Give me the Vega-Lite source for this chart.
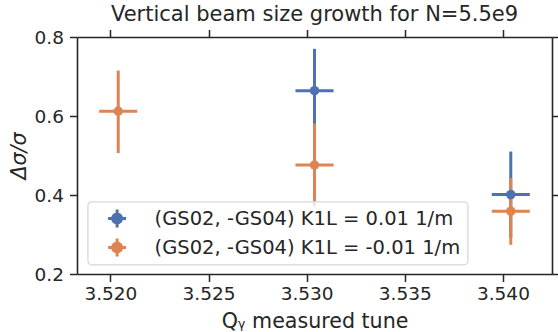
{
  "$schema": "https://vega.github.io/schema/vega-lite/v6.json",
  "width": 475,
  "height": 237,
  "autosize": "none",
  "padding": {"left": 77, "top": 37, "right": 6, "bottom": 58},
  "background": "white",
  "title": {"text": "Vertical beam size growth for N=5.5e9"},
  "data": {
    "values": [
      {"series": "(GS02, -GS04) K1L = 0.01 1/m", "x": 3.5304, "x_lo": 3.52943, "x_hi": 3.53137, "y": 0.664, "y_lo": 0.558, "y_hi": 0.770},
      {"series": "(GS02, -GS04) K1L = 0.01 1/m", "x": 3.5404, "x_lo": 3.53943, "x_hi": 3.54137, "y": 0.401, "y_lo": 0.292, "y_hi": 0.510},
      {"series": "(GS02, -GS04) K1L = -0.01 1/m", "x": 3.5204, "x_lo": 3.51943, "x_hi": 3.52137, "y": 0.612, "y_lo": 0.506, "y_hi": 0.715},
      {"series": "(GS02, -GS04) K1L = -0.01 1/m", "x": 3.5304, "x_lo": 3.52943, "x_hi": 3.53137, "y": 0.476, "y_lo": 0.371, "y_hi": 0.581},
      {"series": "(GS02, -GS04) K1L = -0.01 1/m", "x": 3.5404, "x_lo": 3.53943, "x_hi": 3.54137, "y": 0.359, "y_lo": 0.274, "y_hi": 0.443}
    ]
  },
  "layer": [
    {
      "mark": {"type": "rule", "strokeWidth": 3},
      "encoding": {
        "x": {"field": "x_lo", "type": "quantitative", "scale": {"domain": [3.5183, 3.5425], "nice": false, "zero": false},
              "axis": {"orient": "bottom", "values": [3.52, 3.525, 3.53, 3.535, 3.54], "format": ".3f", "labelPadding": 3, "title": "Qᵧ measured tune", "titleY": 53.5, "titleBaseline": "alphabetic"}},
        "x2": {"field": "x_hi"},
        "y": {"field": "y", "type": "quantitative", "scale": {"domain": [0.2, 0.8], "nice": false, "zero": false},
              "axis": {"orient": "left", "values": [0.2, 0.4, 0.6, 0.8], "format": ".1f", "labelPadding": 6, "title": "Δσ/σ", "titleX": -52, "titleBaseline": "alphabetic", "titleFontStyle": "italic"}},
        "color": {"field": "series", "type": "nominal",
                  "scale": {"domain": ["(GS02, -GS04) K1L = 0.01 1/m", "(GS02, -GS04) K1L = -0.01 1/m"], "range": ["#4c72b0", "#dd8452"]},
                  "legend": {"title": null, "orient": "none", "legendX": 10.6, "legendY": 164.5,
                             "symbolType": "M-1,0H1M0,-1V1M-0.5,0A0.5,0.5 0 1,0 0.5,0A0.5,0.5 0 1,0 -0.5,0Z",
                             "symbolSize": 324, "symbolOffset": 12, "labelOffset": 27, "clipHeight": 20,
                             "encode": {"symbols": {"update": {"stroke": {"scale": "color", "field": "value"}, "fill": {"scale": "color", "field": "value"}, "strokeWidth": {"value": 3}, "opacity": {"value": 1}}}}}}
      }
    },
    {
      "mark": {"type": "rule", "strokeWidth": 3},
      "encoding": {
        "x": {"field": "x", "type": "quantitative", "scale": {"domain": [3.5183, 3.5425], "nice": false, "zero": false},
              "axis": {"orient": "top", "values": [3.52, 3.525, 3.53, 3.535, 3.54], "labels": false, "title": null}},
        "y": {"field": "y_lo", "type": "quantitative", "scale": {"domain": [0.2, 0.8], "nice": false, "zero": false},
              "axis": {"orient": "right", "values": [0.2, 0.4, 0.6, 0.8], "labels": false, "title": null}},
        "y2": {"field": "y_hi"},
        "color": {"field": "series", "type": "nominal"}
      }
    },
    {
      "mark": {"type": "point", "shape": "circle", "filled": true, "size": 90, "opacity": 1},
      "encoding": {
        "x": {"field": "x", "type": "quantitative", "axis": null},
        "y": {"field": "y", "type": "quantitative", "axis": null},
        "color": {"field": "series", "type": "nominal"}
      }
    }
  ],
  "resolve": {"axis": {"x": "independent", "y": "independent"}},
  "config": {
    "view": {"stroke": null},
    "font": "DejaVu Sans",
    "title": {"font": "DejaVu Sans", "fontSize": 21, "fontWeight": "normal", "color": "#262626", "anchor": "middle", "baseline": "alphabetic", "offset": 3},
    "axis": {
      "grid": false,
      "domainColor": "#262626", "domainWidth": 1.6,
      "tickColor": "#262626", "tickWidth": 1.5, "tickSize": 7.5,
      "labelFont": "DejaVu Sans", "labelFontSize": 18.5, "labelColor": "#262626",
      "titleFont": "DejaVu Sans", "titleFontSize": 20.6, "titleColor": "#262626", "titleFontWeight": "normal"
    },
    "legend": {
      "labelFont": "DejaVu Sans", "labelFontSize": 19.5, "labelColor": "#262626", "labelLimit": 0,
      "fillColor": "rgba(255,255,255,0.8)", "strokeColor": "#d6d6d6", "strokeWidth": 1.2, "cornerRadius": 4,
      "padding": 7, "rowPadding": 9
    }
  }
}
